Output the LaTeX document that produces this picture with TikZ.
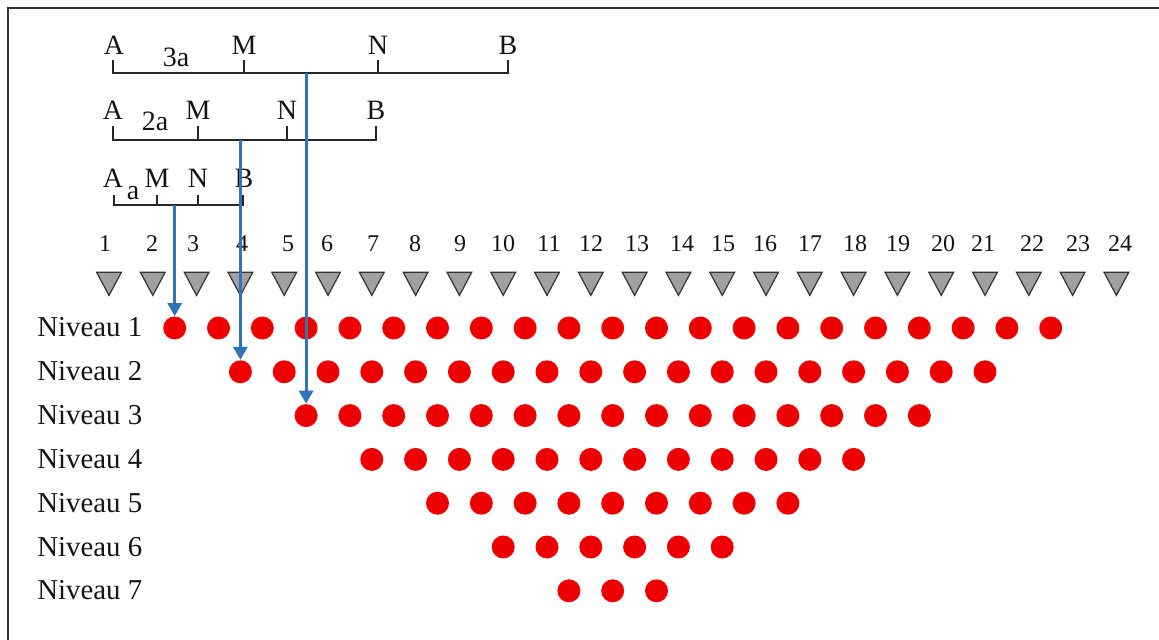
\documentclass[tikz,border=0pt]{standalone}
\usepackage{fontspec}
\setmainfont{Liberation Serif}
\usetikzlibrary{arrows.meta,shapes.geometric}
\definecolor{dotred}{RGB}{236,0,0}
\definecolor{arrblue}{RGB}{46,117,182}
\definecolor{trigray}{RGB}{160,160,160}
\definecolor{framegray}{RGB}{50,50,50}
\definecolor{txt}{RGB}{20,20,20}
\begin{document}
\begin{tikzpicture}[x=0.5pt,y=-0.5pt,
  dot/.style={circle,fill=dotred,draw=none,minimum size=11.5pt,inner sep=0pt},
  tri/.style={regular polygon,regular polygon sides=3,shape border rotate=180,draw=black!80,line width=0.6pt,fill=trigray,minimum size=14.3pt,inner sep=0pt,yscale=1.08},
  num/.style={font=\fontsize{12}{14}\selectfont,text=txt,anchor=base,inner sep=0pt},
  lvl/.style={font=\fontsize{14.4}{17}\selectfont,text=txt,anchor=base west,inner sep=0pt},
  ptlab/.style={font=\fontsize{14}{16}\selectfont,text=txt,anchor=base,inner sep=0pt},
  seg/.style={line width=1pt,black!85},
  arr/.style={arrblue,line width=1.4pt,-{Triangle[length=6.5pt,width=7pt]}},
]
\useasboundingbox (0,0) rectangle (1159,640);
\draw[framegray,line width=1.1pt] (8,640) -- (8,8) -- (1159,8);

% brackets
% row 1
\coordinate (r1A) at (113,73); \coordinate (r1M) at (244,73);
\coordinate (r1N) at (378,73); \coordinate (r1B) at (508,73);
\draw[seg] (113,60) -- (r1A) -- (r1B) -- (508,60);
\draw[seg] (r1M) -- (244,60); \draw[seg] (r1N) -- (378,60);
\node[ptlab] (l1A) at (114,55) {A};
\node[ptlab] (l1M) at (244,55) {M};
\node[ptlab] (l1N) at (378,55) {N};
\node[ptlab] (l1B) at (508,55) {B};
\node[ptlab] (l1d) at (176,67) {3a};
% row 2
\coordinate (r2A) at (113,140); \coordinate (r2M) at (198,140);
\coordinate (r2N) at (287,140); \coordinate (r2B) at (376,140);
\draw[seg] (113,126) -- (r2A) -- (r2B) -- (376,126);
\draw[seg] (r2M) -- (198,126); \draw[seg] (r2N) -- (287,126);
\node[ptlab] (l2A) at (113,120) {A};
\node[ptlab] (l2M) at (198,120) {M};
\node[ptlab] (l2N) at (287,120) {N};
\node[ptlab] (l2B) at (376,120) {B};
\node[ptlab] (l2d) at (155,131) {2a};
% row 3
\coordinate (r3A) at (114,205); \coordinate (r3M) at (157,205);
\coordinate (r3N) at (198,205); \coordinate (r3B) at (243,205);
\draw[seg] (114,195) -- (r3A) -- (r3B) -- (243,195);
\draw[seg] (r3M) -- (157,195); \draw[seg] (r3N) -- (198,195);
\node[ptlab] (l3A) at (113,188) {A};
\node[ptlab] (l3M) at (157,188) {M};
\node[ptlab] (l3N) at (198,188) {N};
\node[ptlab] (l3B) at (244,188) {B};
\node[ptlab] (l3d) at (133,200) {a};

% numbers
\foreach \i/\x in {1/105,2/152,3/193,4/242,5/288,6/327,7/373,8/415,9/460,10/503,11/549,12/591,13/637,14/682,15/723,16/765,17/810,18/855,19/898,20/943,21/983,22/1032,23/1078,24/1120}
  \node[num] (n\i) at (\x,252) {\i};

% triangles
\foreach \i in {1,...,24}
  \node[tri] (t\i) at ({109+43.8*(\i-1)},280) {};

% levels
\foreach \k in {1,...,7}{
  \node[lvl] (lv\k) at (37,{337+43.8*(\k-1)}) {Niveau \k};
  \pgfmathtruncatemacro\nn{24-3*\k}
  \foreach \j in {1,...,\nn}
    \node[dot] (d-\k-\j) at ({174.7+65.7*(\k-1)+43.8*(\j-1)},{328+43.8*(\k-1)}) {};
}

% arrows
\draw[arr] (d-3-1 |- r1A) -- (d-3-1);
\draw[arr] (d-2-1 |- r2A) -- (d-2-1);
\draw[arr] (d-1-1 |- r3A) -- (d-1-1);
\end{tikzpicture}
\end{document}
